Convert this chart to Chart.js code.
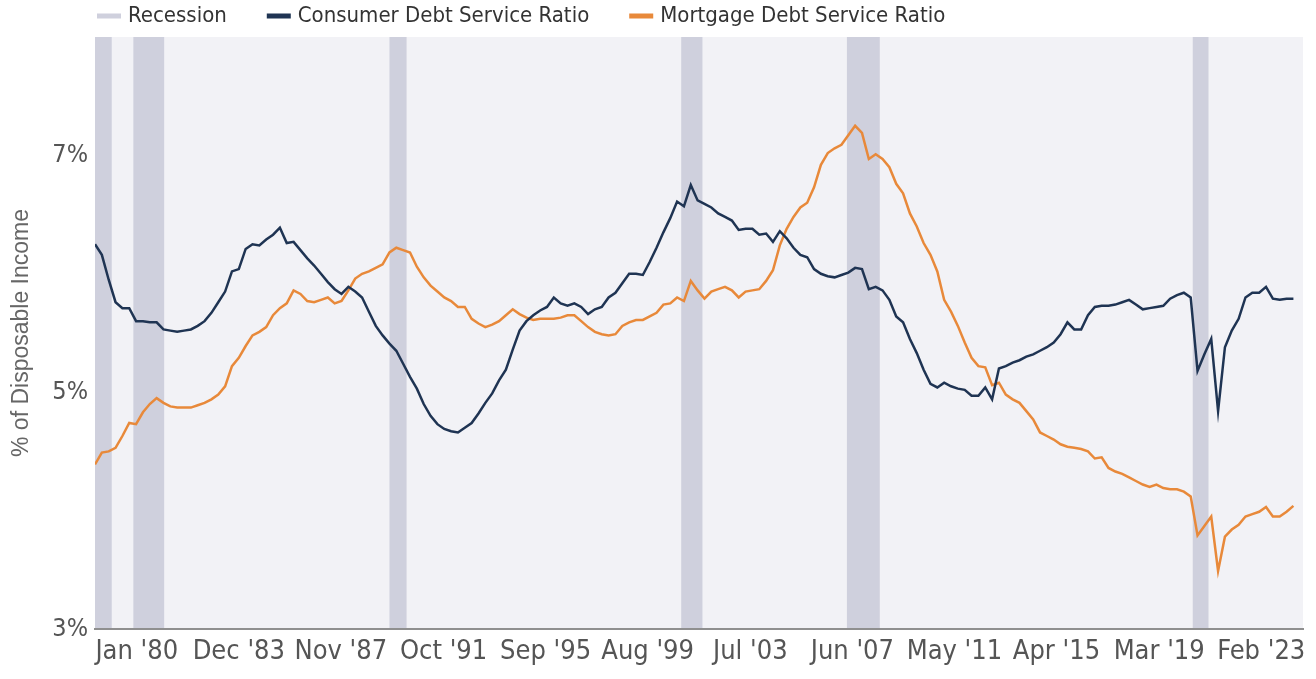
<!DOCTYPE html>
<html>
<head>
<meta charset="utf-8">
<script src="https://cdn.jsdelivr.net/npm/chart.js@4.4.0/dist/chart.umd.min.js"></script>
<style>
  html, body { margin: 0; padding: 0; background: #fff; }
</style>
</head>
<body>
<canvas id="chart-1" width="1316" height="679"></canvas>
<script>
// DEBT SERVICE RATIOS, quarterly from 1980 Q1 (x = quarter index)
const consumerDSR = [
  6.25, 6.16, 5.95, 5.76, 5.71, 5.71, 5.60, 5.60, 5.59, 5.59,
  5.53, 5.52, 5.51, 5.52, 5.53, 5.56, 5.60, 5.67, 5.76, 5.85,
  6.02, 6.04, 6.21, 6.25, 6.24, 6.29, 6.33, 6.39, 6.26, 6.27,
  6.20, 6.13, 6.07, 6.00, 5.93, 5.87, 5.83, 5.89, 5.85, 5.80,
  5.68, 5.56, 5.48, 5.41, 5.35, 5.24, 5.13, 5.03, 4.90, 4.80,
  4.73, 4.69, 4.67, 4.66, 4.70, 4.74, 4.82, 4.91, 4.99, 5.10,
  5.19, 5.36, 5.52, 5.60, 5.65, 5.69, 5.72, 5.80, 5.75, 5.73,
  5.75, 5.72, 5.66, 5.70, 5.72, 5.80, 5.84, 5.92, 6.00, 6.00,
  5.99, 6.10, 6.22, 6.35, 6.47, 6.61, 6.57, 6.75, 6.62, 6.59,
  6.56, 6.51, 6.48, 6.45, 6.37, 6.38, 6.38, 6.33, 6.34, 6.27,
  6.36, 6.30, 6.22, 6.16, 6.14, 6.04, 6.00, 5.98, 5.97, 5.99,
  6.01, 6.05, 6.04, 5.87, 5.89, 5.86, 5.78, 5.64, 5.59, 5.45,
  5.33, 5.19, 5.07, 5.04, 5.08, 5.05, 5.03, 5.02, 4.97, 4.97,
  5.04, 4.94, 5.20, 5.22, 5.25, 5.27, 5.30, 5.32, 5.35, 5.38,
  5.42, 5.49, 5.59, 5.53, 5.53, 5.65, 5.72, 5.73, 5.73, 5.74,
  5.76, 5.78, 5.74, 5.70, 5.71, 5.72, 5.73, 5.79, 5.82, 5.84,
  5.80, 5.18, 5.32, 5.45, 4.84, 5.38, 5.52, 5.62, 5.80, 5.84,
  5.84, 5.89, 5.79, 5.78, 5.79, 5.79
];

const mortgageDSR = [
  4.39, 4.49, 4.50, 4.53, 4.63, 4.74, 4.73, 4.83, 4.90, 4.95,
  4.91, 4.88, 4.87, 4.87, 4.87, 4.89, 4.91, 4.94, 4.98, 5.05,
  5.22, 5.29, 5.39, 5.48, 5.51, 5.55, 5.65, 5.71, 5.75, 5.86,
  5.83, 5.77, 5.76, 5.78, 5.80, 5.75, 5.77, 5.86, 5.96, 6.00,
  6.02, 6.05, 6.08, 6.18, 6.22, 6.20, 6.18, 6.06, 5.97, 5.90,
  5.85, 5.80, 5.77, 5.72, 5.72, 5.62, 5.58, 5.55, 5.57, 5.60,
  5.65, 5.70, 5.66, 5.63, 5.61, 5.62, 5.62, 5.62, 5.63, 5.65,
  5.65, 5.60, 5.55, 5.51, 5.49, 5.48, 5.49, 5.56, 5.59, 5.61,
  5.61, 5.64, 5.67, 5.74, 5.75, 5.80, 5.77, 5.94, 5.86, 5.79,
  5.85, 5.87, 5.89, 5.86, 5.80, 5.85, 5.86, 5.87, 5.94, 6.03,
  6.24, 6.38, 6.48, 6.56, 6.60, 6.73, 6.92, 7.02, 7.06, 7.09,
  7.17, 7.25, 7.19, 6.97, 7.01, 6.97, 6.90, 6.76, 6.68, 6.51,
  6.40, 6.26, 6.16, 6.02, 5.78, 5.68, 5.56, 5.42, 5.29, 5.22,
  5.21, 5.06, 5.08, 4.98, 4.94, 4.91, 4.84, 4.77, 4.66, 4.63,
  4.60, 4.56, 4.54, 4.53, 4.52, 4.50, 4.44, 4.45, 4.36, 4.33,
  4.31, 4.28, 4.25, 4.22, 4.20, 4.22, 4.19, 4.18, 4.18, 4.16,
  4.12, 3.79, 3.87, 3.95, 3.49, 3.78, 3.84, 3.88, 3.95, 3.97,
  3.99, 4.03, 3.95, 3.95, 3.99, 4.04
];

const tickLabels = [
  "Jan '80", "Dec '83", "Nov '87", "Oct '91", "Sep '95", "Aug '99",
  "Jul '03", "Jun '07", "May '11", "Apr '15", "Mar '19", "Feb '23"
];
const tickAt = [6.1, 21.0, 35.9, 50.9, 65.8, 80.7, 95.7, 110.6, 125.5, 140.4, 155.4, 170.3];

// recession spans, in quarter index
const recessionStart = [0, 5.6, 43.0, 85.6, 109.8, 160.3];
const recessionEnd   = [2.44, 10.1, 45.5, 88.7, 114.6, 162.6];

const yTicks = [3, 5, 7];

const narrow = "'DejaVu Sans Condensed', 'Liberation Sans Narrow', sans-serif";
const navy = '#1f3453';
const orange = '#e8893a';
const recessionColor = '#cfd0dd';
const plotBg = '#f2f2f6';

const toPoints = arr => arr.map((v, i) => ({ x: i, y: v }));

const bgPlugin = {
  id: 'recessionBands',
  beforeDraw(chart) {
    const { ctx, chartArea: a, scales: { x } } = chart;
    ctx.save();
    ctx.fillStyle = plotBg;
    ctx.fillRect(a.left, a.top, a.right - a.left, a.bottom - a.top);
    ctx.fillStyle = recessionColor;
    recessionStart.forEach((s, i) => {
      const x0 = x.getPixelForValue(s);
      const x1 = x.getPixelForValue(recessionEnd[i]);
      ctx.fillRect(x0, a.top, x1 - x0, a.bottom - a.top);
    });
    ctx.restore();
  }
};

const legendPlugin = {
  id: 'topLegend',
  afterDraw(chart) {
    const ctx = chart.ctx;
    const items = [{ text: 'Recession', color: recessionColor }].concat(
      chart.data.datasets.map(d => ({ text: d.label, color: d.borderColor }))
    );
    ctx.save();
    ctx.font = '22px ' + narrow;
    ctx.textBaseline = 'middle';
    let x = 97;
    const y = 16;
    items.forEach(it => {
      ctx.fillStyle = it.color;
      ctx.fillRect(x, y - 2.5, 24, 5);
      x += 31;
      ctx.fillStyle = '#333333';
      ctx.fillText(it.text, x, y);
      x += ctx.measureText(it.text).width + 40;
    });
    ctx.restore();
  }
};

const data = {
  datasets: [
    {
      label: 'Consumer Debt Service Ratio',
      data: toPoints(consumerDSR),
      borderColor: navy,
      backgroundColor: navy,
      borderWidth: 2.5,
      pointRadius: 0,
      tension: 0
    },
    {
      label: 'Mortgage Debt Service Ratio',
      data: toPoints(mortgageDSR),
      borderColor: orange,
      backgroundColor: orange,
      borderWidth: 2.5,
      pointRadius: 0,
      tension: 0
    }
  ]
};

const config = {
  type: 'line',
  data: data,
  options: {
    responsive: false,
    animation: false,
    devicePixelRatio: 1,
    layout: { padding: { top: 37, right: 13, left: 0, bottom: 0 } },
    plugins: {
      legend: { display: false },
      tooltip: { enabled: false }
    },
    scales: {
      x: {
        type: 'linear',
        min: 0,
        max: 176.4,
        afterBuildTicks: s => { s.ticks = tickAt.map(v => ({ value: v })); },
        afterFit: s => { s.height = 50; },
        ticks: {
          autoSkip: false,
          maxRotation: 0,
          padding: 7,
          color: '#555555',
          font: { family: narrow, size: 27 },
          callback: (v, i) => tickLabels[i]
        },
        grid: { display: false, drawTicks: false },
        border: { display: true, color: '#8f8f8f', width: 2 }
      },
      y: {
        min: 3,
        max: 8,
        afterBuildTicks: s => { s.ticks = yTicks.map(v => ({ value: v })); },
        afterFit: s => { s.width = 95; },
        ticks: {
          padding: 7,
          color: '#555555',
          font: { family: narrow, size: 25 },
          callback: v => v + '%'
        },
        grid: { display: false, drawTicks: false },
        border: { display: false },
        title: {
          display: true,
          text: '% of Disposable Income',
          color: '#666666',
          font: { family: "'Liberation Sans', Arial, sans-serif", size: 23 },
          padding: { top: 8, bottom: 0 }
        }
      }
    }
  },
  plugins: [bgPlugin, legendPlugin]
};

const ctx = document.getElementById('chart-1').getContext('2d');
const myChart = new Chart(ctx, config);
</script>
</body>
</html>
